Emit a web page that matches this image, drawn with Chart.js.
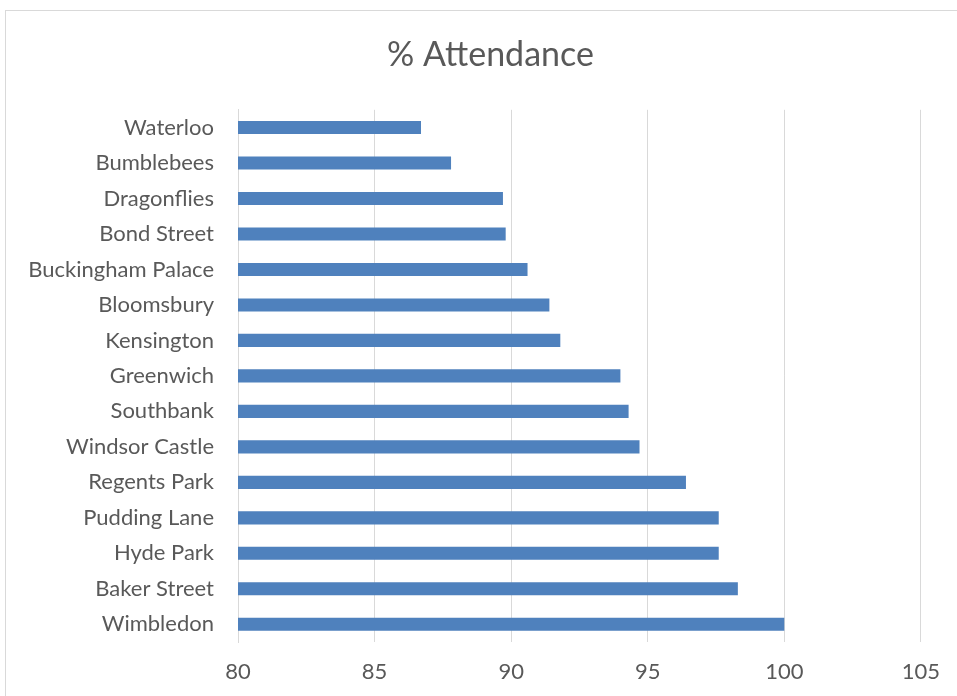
<!DOCTYPE html>
<html>
<head>
<meta charset="utf-8">
<script src="https://cdn.jsdelivr.net/npm/chart.js@4/dist/chart.umd.min.js"></script>
<style>
  html, body { margin: 0; padding: 0; background: #fff; overflow: hidden; }
  #frame {
    position: absolute; left: 5px; top: 10px; width: 1000px; height: 800px;
    border: 1px solid #d9d9d9; box-sizing: border-box;
  }
  #wrap { position: absolute; left: 0; top: 0; width: 957px; height: 696px; }
</style>
</head>
<body>
<div id="frame"></div>
<div id="wrap"><canvas id="chart" width="957" height="696"></canvas></div>
<script>
// --- Data ---
const schools = ['Waterloo', 'Bumblebees', 'Dragonflies', 'Bond Street', 'Buckingham Palace',
  'Bloomsbury', 'Kensington', 'Greenwich', 'Southbank', 'Windsor Castle',
  'Regents Park', 'Pudding Lane', 'Hyde Park', 'Baker Street', 'Wimbledon'];
const attendance = [86.7, 87.8, 89.7, 89.8, 90.6, 91.4, 91.8, 94.0, 94.3, 94.7, 96.4, 97.6, 97.6, 98.3, 100];
const axisMin = 80;
const axisMax = 105;
const axisStep = 5;

const textColor = '#595959';
const gridColor = '#d9d9d9';
const fontFamily = 'Lato, "Open Sans", sans-serif';

// the original title sits a bit right of the canvas centre (frame runs off the right edge)
const shiftTitle = {
    id: 'shiftTitle',
    afterLayout(chart) {
        if (chart.titleBlock) chart.titleBlock.left += 50;
    }
};

const ctx = document.getElementById('chart').getContext('2d');
new Chart(ctx, {
    type: 'bar',
    data: {
        labels: schools,
        datasets: [{
            label: '% Attendance',
            data: attendance,
            backgroundColor: '#4f81bd',
            borderWidth: 0,
            categoryPercentage: 1,
            barPercentage: 0.37
        }]
    },
    options: {
        indexAxis: 'y',
        responsive: false,
        animation: false,
        layout: { padding: { left: 10, right: 36, top: 0, bottom: 0 } },
        plugins: {
            legend: { display: false },
            tooltip: { enabled: false },
            title: {
                display: true,
                text: '% Attendance',
                color: textColor,
                font: { family: fontFamily, size: 34, weight: 'normal' },
                padding: { top: 35, bottom: 34 }
            }
        },
        scales: {
            x: {
                min: axisMin,
                max: axisMax,
                ticks: { stepSize: axisStep, color: textColor, padding: 17,
                         font: { family: fontFamily, size: 22 } },
                grid: { color: gridColor, drawTicks: false },
                border: { display: false },
                afterFit: (scale) => { scale.height = 54; }
            },
            y: {
                ticks: { color: textColor, padding: 24,
                         font: { family: fontFamily, size: 22 } },
                grid: { display: false, drawTicks: false },
                border: { display: true, color: gridColor },
                afterFit: (scale) => { scale.width = 228; }
            }
        }
    },
    plugins: [shiftTitle]
});
</script>
</body>
</html>
